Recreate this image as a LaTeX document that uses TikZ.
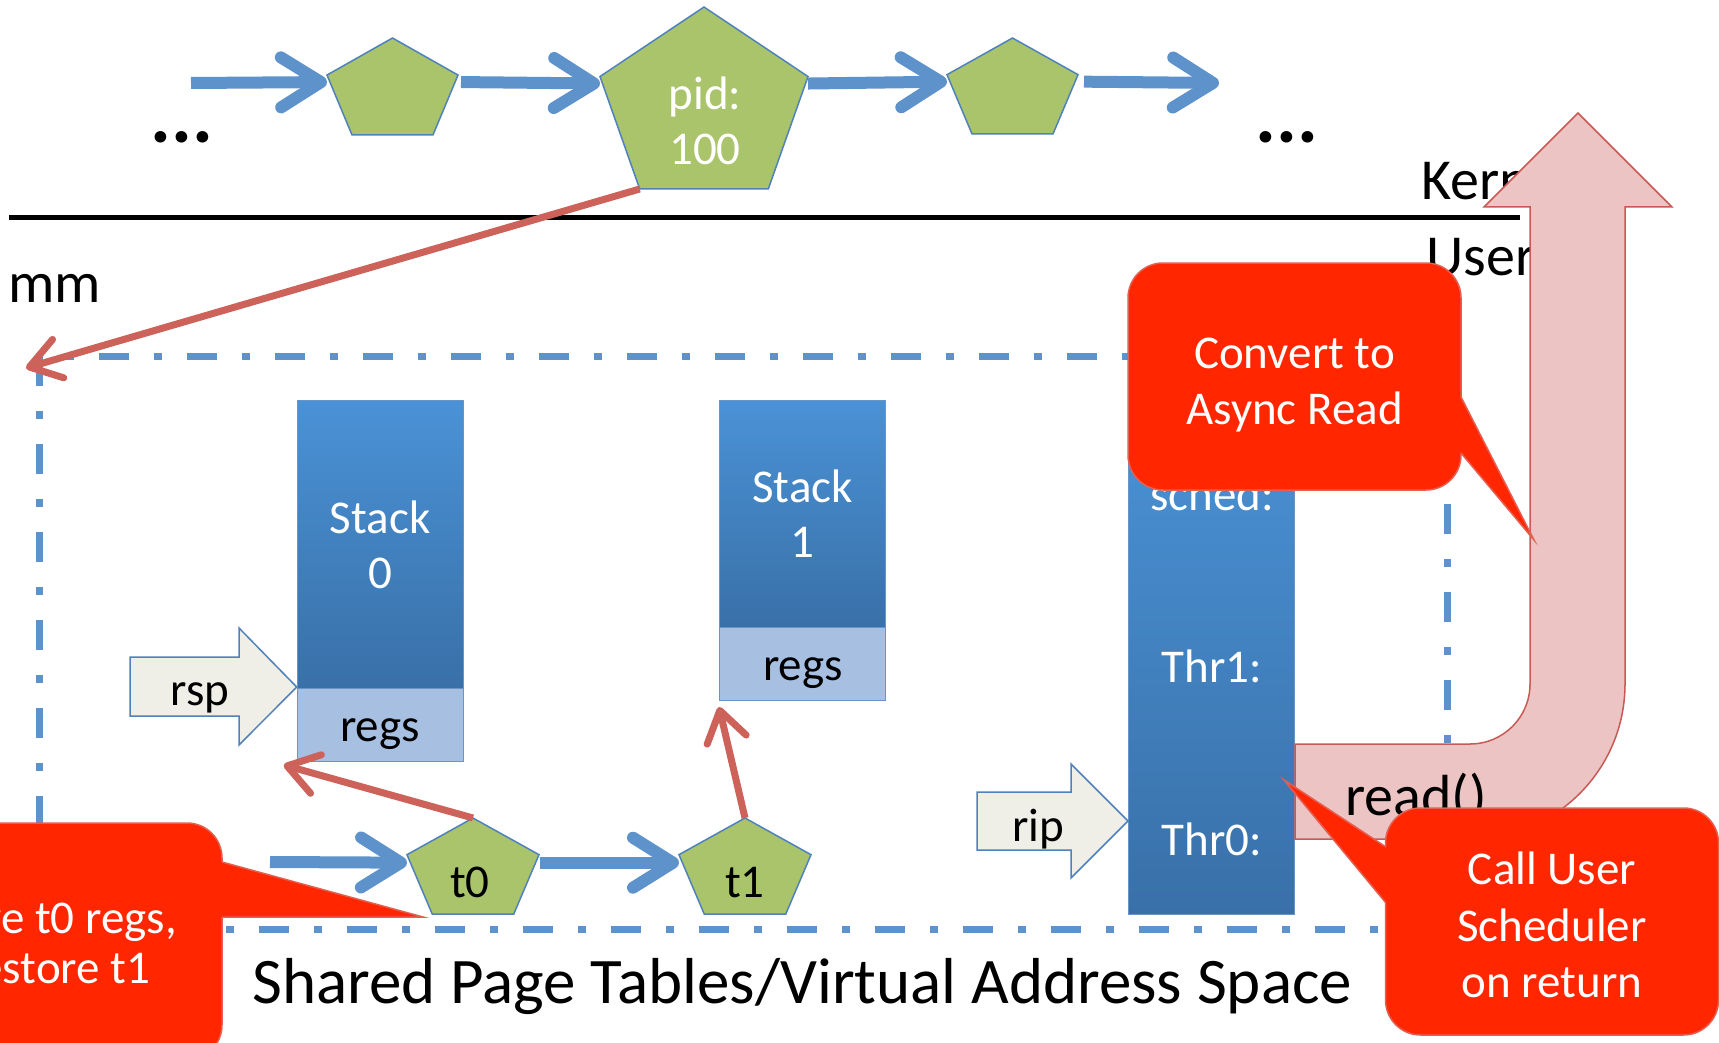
\documentclass[tikz,border=0pt]{standalone}
\usepackage{fontspec}
\setmainfont{Carlito}
\usetikzlibrary{arrows.meta}
\definecolor{cblue}{RGB}{93,146,202}
\definecolor{cedge}{RGB}{79,129,189}
\definecolor{cgreen}{RGB}{170,196,108}
\definecolor{cred}{RGB}{204,98,90}
\definecolor{ccall}{RGB}{255,38,0}
\definecolor{ccalledge}{RGB}{228,95,80}
\definecolor{cstacktop}{RGB}{74,146,214}
\definecolor{cstackbot}{RGB}{57,112,168}
\definecolor{cregs}{RGB}{167,192,225}
\definecolor{cptr}{RGB}{239,239,231}
\definecolor{cpink}{RGB}{236,196,195}
\definecolor{cpinkedge}{RGB}{200,90,85}
\newcommand\myfs[2]{\fontsize{#1}{#2}\selectfont}
\newcommand\mkpent[5]{%
  \coordinate (#1-n) at ({#2+0.5*#4},{#3});
  \coordinate (#1-e) at ({#2+#4},{#3+0.382*#5});
  \coordinate (#1-se) at ({#2+0.809*#4},{#3+#5});
  \coordinate (#1-sw) at ({#2+0.191*#4},{#3+#5});
  \coordinate (#1-w) at ({#2},{#3+0.382*#5});
  \draw[pentstyle] (#1-n) -- (#1-e) -- (#1-se) -- (#1-sw) -- (#1-w) -- cycle;
}
\begin{document}
\begin{tikzpicture}[x=1pt,y=-1pt,
  pentstyle/.style={fill=cgreen, draw=cedge, line width=1.5pt},
  bluearr/.style={draw=cblue, line width=12pt, -{Straight Barb[round,length=40pt,width=50pt]}},
  redarr/.style={draw=cred, line width=7pt, -{Straight Barb[round,length=30pt,width=40pt]}},
  stackbox/.style={draw=cedge!85, line width=1pt, top color=cstacktop, bottom color=cstackbot,
     minimum width=166pt, inner sep=0pt, anchor=north west, text=white, font=\myfs{47}{55}, align=center},
  regsbox/.style={draw=cedge!85, line width=1pt, fill=cregs, minimum width=166pt, minimum height=73pt,
     inner sep=0pt, anchor=north west},
  lbl/.style={inner sep=0pt, font=\myfs{47}{55}},
  biglbl/.style={inner sep=0pt, font=\myfs{58}{66}},
  dotlbl/.style={inner sep=0pt, font=\myfs{78}{80}\bfseries, anchor=base},
  callbox/.style={fill=ccall, draw=ccalledge, line width=1.5pt, rounded corners=35pt, inner sep=0pt,
     minimum width=333pt, minimum height=227pt},
  calltext/.style={inner sep=0pt, text=white, font=\myfs{47}{56}, align=center},
  ptrshape/.style={fill=cptr, draw=cedge, line width=1.5pt},
  pinkshape/.style={fill=cpink, draw=cpinkedge, line width=1.5pt}
]
\useasboundingbox (0,0) rectangle (1719,1043);
\clip (0,0) rectangle (1719,1043);
\fill[white] (0,0) rectangle (1719,1043);

% kernel / user boundary
\coordinate (blL) at (9,218);
\coordinate (blR) at (1520,218);
\draw[line width=5pt] (blL) -- (blR);
\node[biglbl, anchor=base west] (kern) at (1421,200) {Kernel};
\node[biglbl, anchor=base west] (user) at (1426,275) {User};
\node[biglbl, anchor=base west] (mm) at (8,302) {mm};
\node[dotlbl] (dotsL) at (182,143) {...};
\node[dotlbl] (dotsR) at (1287,143) {...};

% shared address space box
\draw[cblue, line width=7pt, dash pattern=on 30pt off 25pt on 8pt off 25pt]
  (39.5,356) rectangle (1447,929);
\coordinate (mmcorner) at (26,368);

% top chain
\mkpent{pa}{327}{38}{131}{97}
\mkpent{pid}{600}{7}{208}{182}
\mkpent{pc}{947}{38}{131}{96}
\node[lbl, text=white, align=center] (pidt) at (705,121) {pid:\\100};
\coordinate (chainstart) at (191,83);
\coordinate (chainend) at (1219,83);
\draw[bluearr] (chainstart) -- ([yshift=-7pt]pa-w);
\draw[bluearr] ([xshift=3pt,yshift=-7pt]pa-e) -- ([yshift=-7pt]pid-w);
\draw[bluearr] ([yshift=-7pt]pid-e) -- ([yshift=-7pt]pc-w);
\draw[bluearr] ([xshift=6pt,yshift=-7pt]pc-e) -- (chainend);
\draw[redarr] (pid-sw) -- (mmcorner);

% stacks
\node[stackbox, minimum height=288pt] (stack0) at (296.7,400) {Stack\\0};
\node[regsbox] (regs0) at (296.7,688) {};
\node[lbl, anchor=base] (regs0t) at (380,741) {regs};
\node[stackbox, minimum height=227pt] (stack1) at (719,400) {Stack\\1};
\node[regsbox] (regs1) at (719,627) {};
\node[lbl, anchor=base] (regs1t) at (803,680) {regs};

% rsp pointer
\draw[ptrshape] (130,657) -- (239,657) -- (239,628) -- (296.7,687) -- (239,745) -- (239,716) -- (130,716) -- cycle;
\node[lbl, anchor=base] (rsp) at (200,705) {rsp};

% thread list
\mkpent{t0}{407}{818}{132}{96}
\mkpent{t1}{679}{818}{132}{96}
\node[lbl, anchor=base] (t0t) at (470,897) {t0};
\node[lbl, anchor=base] (t1t) at (745,897) {t1};
\coordinate (tstart) at (270,862);
\draw[bluearr] (tstart) -- ([yshift=-8pt]t0-w);
\draw[bluearr] ([xshift=1pt,yshift=-8pt]t0-e) -- ([yshift=-8pt]t1-w);
\draw[redarr] (t0-n) -- ([xshift=-13pt,yshift=-3pt]regs0.south west);
\draw[redarr] (t1-n) -- ([yshift=-6pt]regs1.south west);

% scheduler column
\node[stackbox, minimum height=514pt] (sched) at (1128,400) {};
\node[lbl, text=white, anchor=base] (schedt) at (1212,510) {sched:};
\node[lbl, text=white, anchor=base] (thr1) at (1212,682) {Thr1:};
\node[lbl, text=white, anchor=base] (thr0) at (1212,855) {Thr0:};

% rip pointer
\draw[ptrshape] (977,792) -- (1071,792) -- (1071,764) -- (1128,821) -- (1071,878) -- (1071,850) -- (977,850) -- cycle;
\node[lbl, anchor=base] (rip) at (1038,841) {rip};

% system call arrow
\draw[pinkshape] (1295,744) -- (1470,744) arc[start angle=90, end angle=0, radius=60]
  -- (1530,207) -- (1484,207) -- (1578,113) -- (1672,207) -- (1625,207) -- (1625,684)
  arc[start angle=0, end angle=90, radius=155] -- (1295,839) -- cycle;
\node[biglbl, anchor=base west] (read) at (1345,815) {read()};

% caption
\node[inner sep=0pt, font=\myfs{65}{72}, anchor=base west] (shared) at (252,1003) {Shared Page Tables/Virtual Address Space};

% callouts
\node[callbox] (cv) at (1294.5,376.5) {};
\fill[ccall] (1461,397) -- (1534,540) -- (1461,453) -- (1450,453) -- (1450,397) -- cycle;
\draw[ccalledge, line width=1.5pt] (1461,397) -- (1534,540) -- (1461,453);
\node[calltext] (cvt) at (1294.5,385) {Convert to\\Async Read};

\node[callbox] (cu) at (1552,921.5) {};
\fill[ccall] (1386,847) -- (1284,780) -- (1386,903) -- (1397,903) -- (1397,847) -- cycle;
\draw[ccalledge, line width=1.5pt] (1386,847) -- (1284,780) -- (1386,903);
\node[calltext, font=\myfs{47}{56.5}] (cut) at (1552,925) {Call User\\Scheduler\\on return};

\node[callbox, minimum height=237pt] (sv) at (55.5,941.5) {};
\fill[ccall] (222,862) -- (423,917) -- (222,917) -- (211,917) -- (211,862) -- cycle;
\draw[ccalledge, line width=1.5pt] (222,862) -- (423,917) -- (222,917);
\node[calltext, font=\myfs{47}{50}] (svt) at (57,943) {Save t0 regs,\\restore t1};
\end{tikzpicture}
\end{document}
